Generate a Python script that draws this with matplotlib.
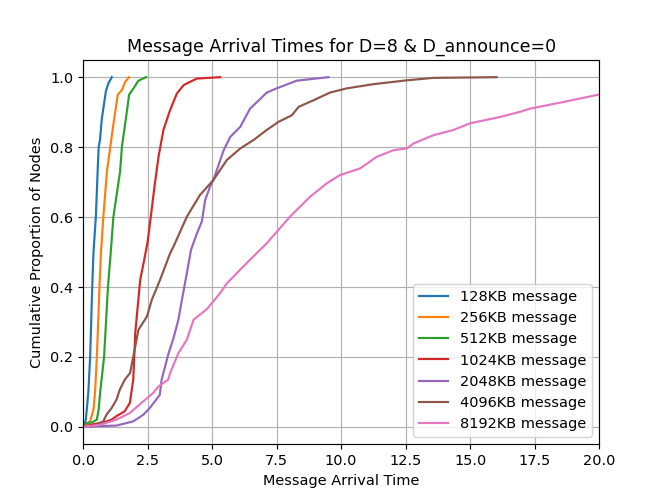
import matplotlib
matplotlib.use("Agg")
import matplotlib.pyplot as plt

# arrival-time CDFs
labels = ["128KB message", "256KB message", "512KB message", "1024KB message",
          "2048KB message", "4096KB message", "8192KB message"]

x_128 = [0.0, 0.05, 0.1, 0.14, 0.2, 0.27, 0.35, 0.4, 0.49, 0.57, 0.6, 0.65, 0.72, 0.88, 0.98, 1.11]
y_128 = [0.0, 0.005, 0.02, 0.05, 0.1, 0.2, 0.4, 0.5, 0.6, 0.75, 0.8, 0.82, 0.88, 0.96, 0.983, 1.0]

x_256 = [0.0, 0.1, 0.27, 0.4, 0.46, 0.53, 0.63, 0.69, 0.78, 0.92, 1.05, 1.18, 1.34, 1.5, 1.63, 1.78]
y_256 = [0.0, 0.005, 0.015, 0.05, 0.1, 0.2, 0.4, 0.5, 0.6, 0.73, 0.8, 0.87, 0.95, 0.963, 0.987, 1.0]

x_512 = [0.0, 0.1, 0.34, 0.53, 0.6, 0.66, 0.81, 0.96, 1.07, 1.17, 1.43, 1.5, 1.69, 1.78, 1.95, 2.14, 2.44]
y_512 = [0.0, 0.01, 0.012, 0.02, 0.05, 0.1, 0.2, 0.4, 0.5, 0.6, 0.73, 0.8, 0.9, 0.95, 0.968, 0.99, 1.0]

x_1024 = [0.05, 0.26, 0.78, 1.1, 1.29, 1.61, 1.81, 1.94, 2.02, 2.21, 2.36, 2.5, 2.62, 2.76, 2.92,
          3.11, 3.37, 3.63, 3.89, 4.15, 4.41, 5.31]
y_1024 = [0.0, 0.005, 0.012, 0.02, 0.03, 0.044, 0.068, 0.134, 0.27, 0.42, 0.475, 0.53, 0.6, 0.685,
          0.772, 0.849, 0.906, 0.953, 0.977, 0.987, 0.996, 1.0]

x_2048 = [0.05, 1.29, 1.94, 2.33, 2.58, 2.97, 3.04, 3.31, 3.5, 3.69, 3.82, 4.02, 4.18, 4.41, 4.6,
          4.73, 4.92, 5.05, 5.44, 5.7, 6.09, 6.47, 7.12, 7.5, 8.28, 9.51]
y_2048 = [0.0, 0.003, 0.015, 0.034, 0.053, 0.091, 0.134, 0.21, 0.253, 0.306, 0.36, 0.44, 0.506, 0.553,
          0.587, 0.649, 0.687, 0.706, 0.79, 0.829, 0.858, 0.91, 0.956, 0.968, 0.99, 1.0]

x_4096 = [0.3, 0.52, 0.78, 0.9, 1.1, 1.29, 1.42, 1.61, 1.82, 2.02, 2.14, 2.47, 2.66, 2.98, 3.37, 3.5,
          4.02, 4.53, 5.05, 5.57, 6.09, 6.6, 7.12, 7.57, 8.09, 8.35, 8.93, 9.57, 10.22, 11.25, 12.55,
          13.58, 16.03]
y_4096 = [0.0, 0.006, 0.015, 0.034, 0.053, 0.077, 0.106, 0.134, 0.154, 0.23, 0.277, 0.315, 0.363,
          0.42, 0.496, 0.515, 0.601, 0.663, 0.706, 0.763, 0.796, 0.82, 0.849, 0.872, 0.891, 0.915,
          0.934, 0.956, 0.968, 0.98, 0.991, 0.998, 1.0]

x_8192 = [0.05, 0.65, 1.29, 1.81, 2.26, 2.71, 2.92, 3.29, 3.37, 3.69, 4.02, 4.28, 4.79, 5.31, 5.57,
          6.34, 7.12, 8.02, 8.8, 9.44, 9.96, 10.74, 11.38, 12.03, 12.55, 12.8, 13.58, 14.36, 15.0,
          16.16, 16.94, 17.33, 18.62, 20.04, 21.0]
y_8192 = [0.0, 0.005, 0.02, 0.039, 0.068, 0.096, 0.115, 0.134, 0.153, 0.21, 0.249, 0.306, 0.336,
          0.382, 0.41, 0.468, 0.525, 0.601, 0.658, 0.696, 0.72, 0.739, 0.772, 0.791, 0.796, 0.81,
          0.834, 0.849, 0.868, 0.886, 0.901, 0.91, 0.929, 0.951, 0.96]

xs = [x_128, x_256, x_512, x_1024, x_2048, x_4096, x_8192]
ys = [y_128, y_256, y_512, y_1024, y_2048, y_4096, y_8192]

fig, ax = plt.subplots(figsize=(6.4, 4.8), dpi=104)
for x, y, lab in zip(xs, ys, labels):
    ax.plot(x, y, label=lab)

ax.set_xlim(0, 20)
ax.set_title("Message Arrival Times for D=8 & D_announce=0")
ax.set_xlabel("Message Arrival Time")
ax.set_ylabel("Cumulative Proportion of Nodes")
ax.grid(True)
ax.legend(loc="lower right")

fig.savefig("out.png", dpi=104)
